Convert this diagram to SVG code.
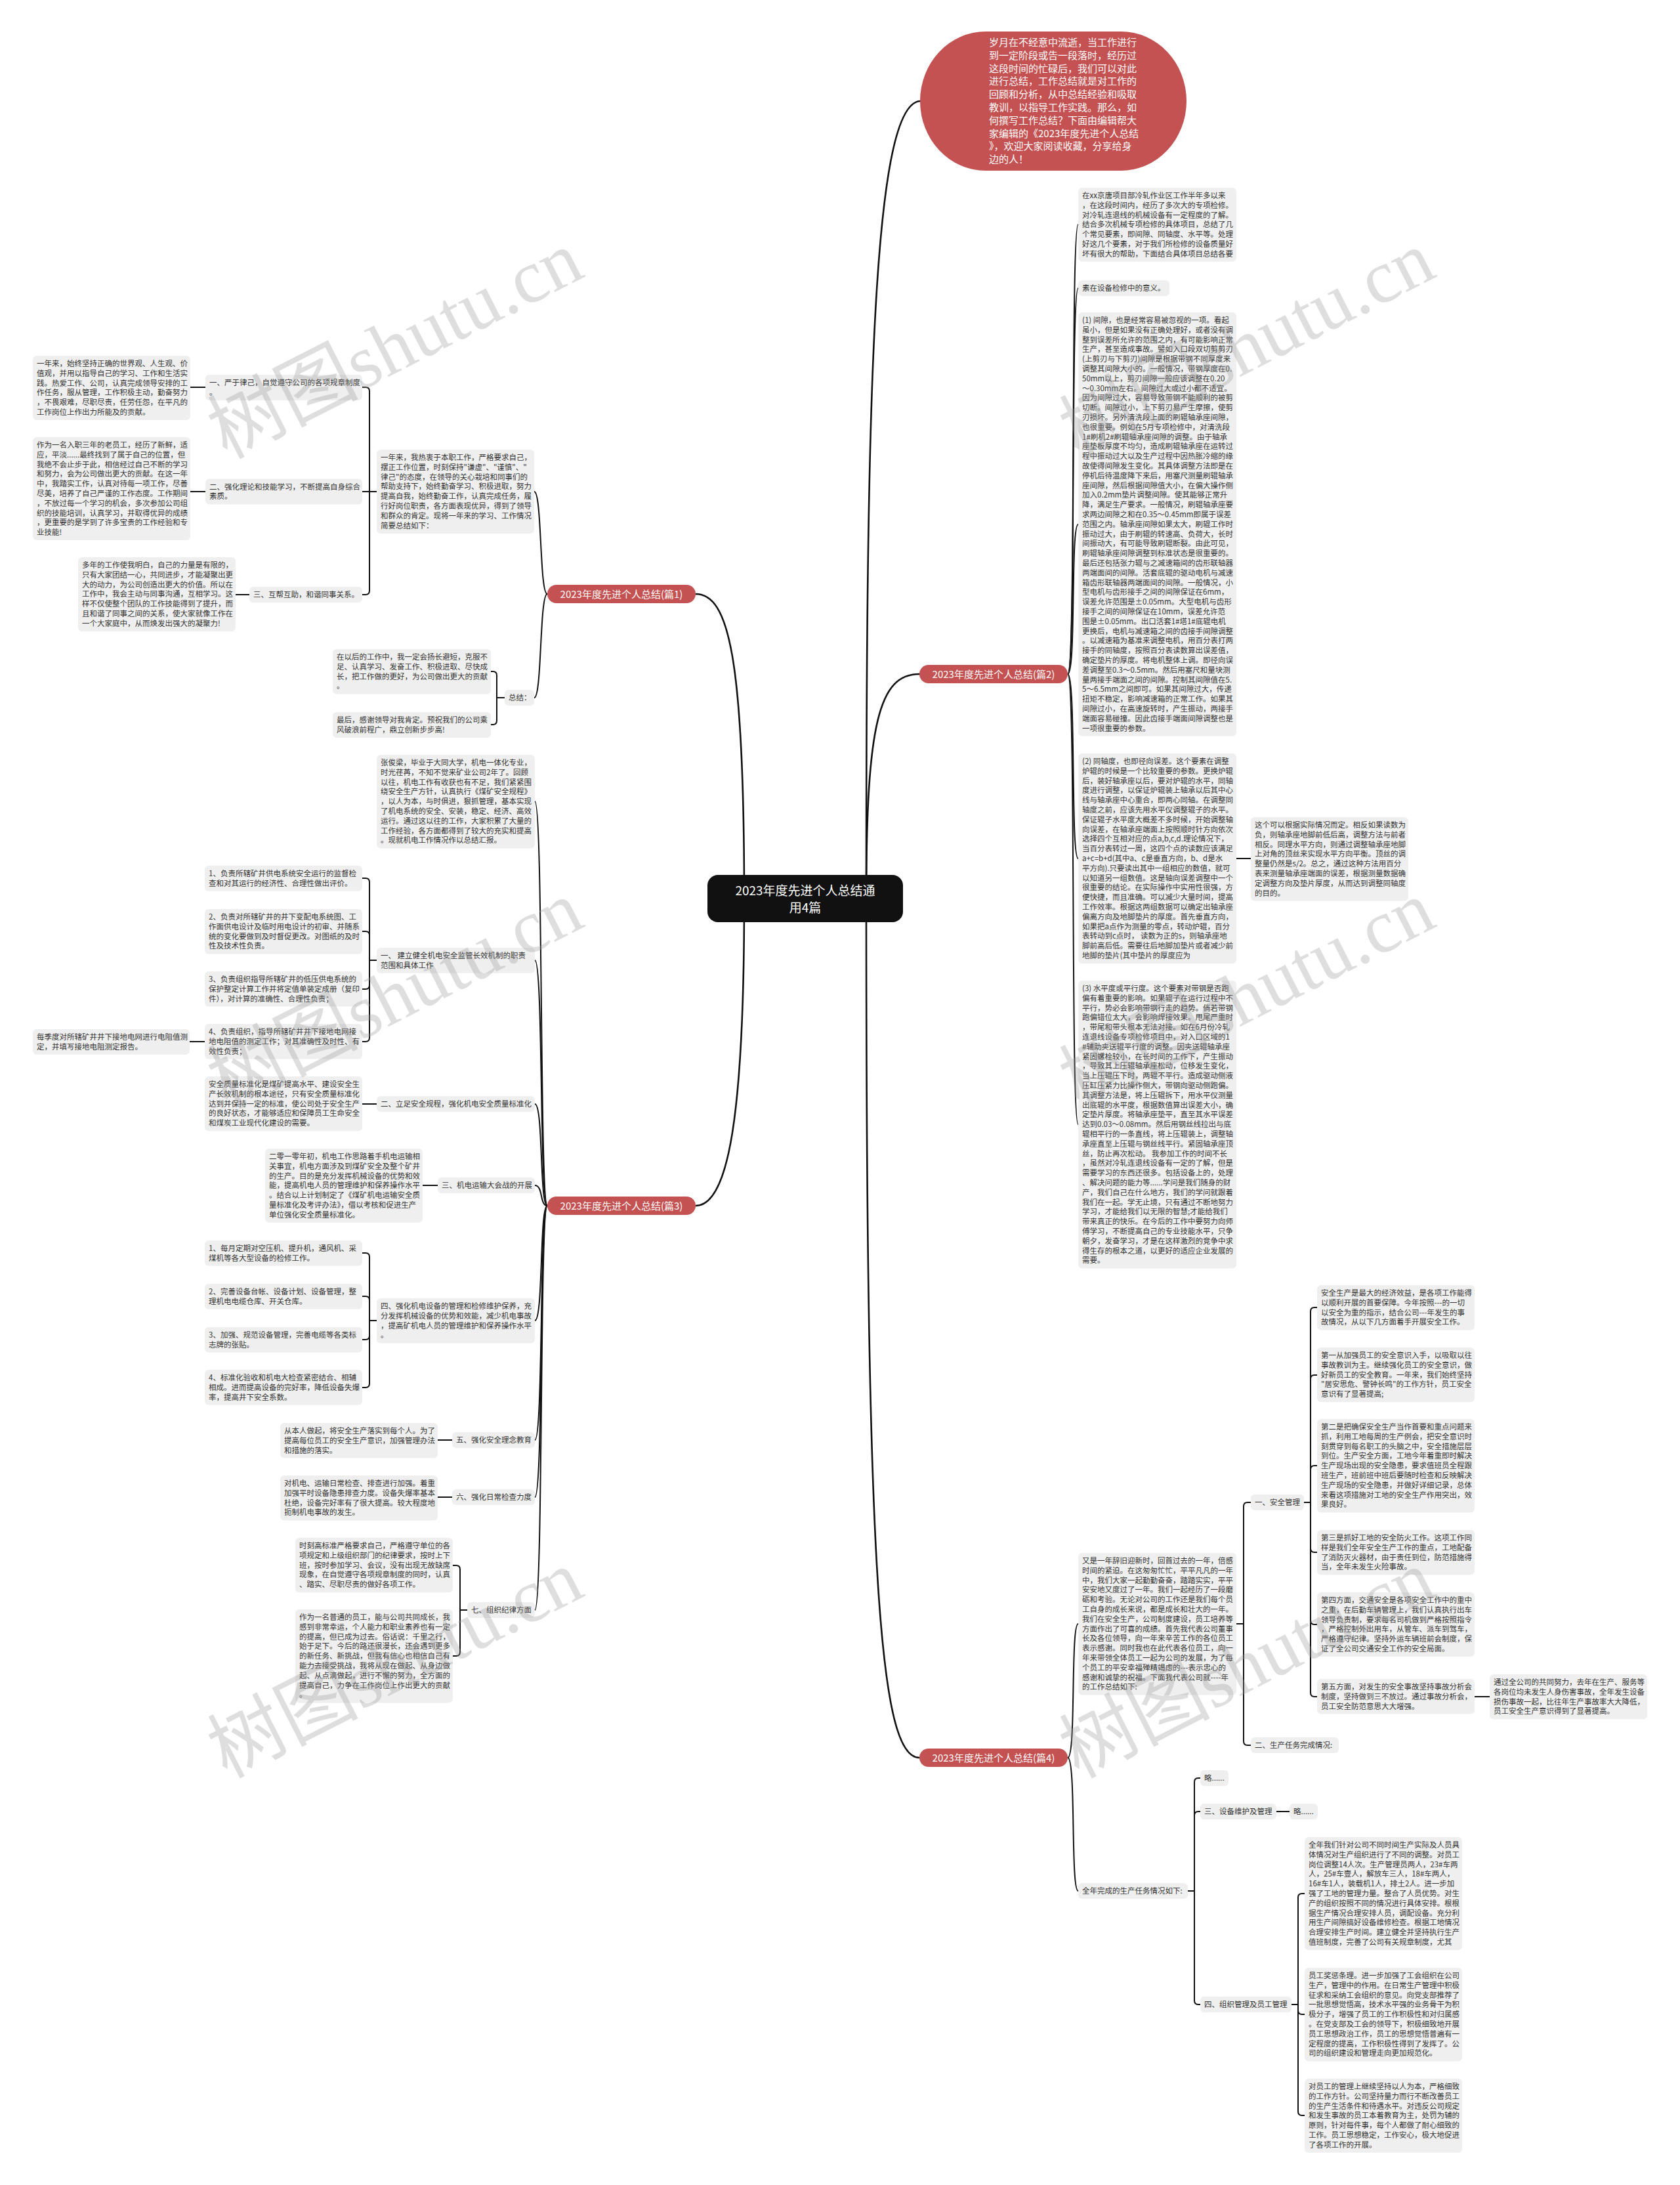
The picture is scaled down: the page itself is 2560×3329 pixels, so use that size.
<svg xmlns="http://www.w3.org/2000/svg" width="2560" height="3329" viewBox="0 0 2560 3329">
<style>
.bg{fill:#ffffff}
.b{fill:#efefef}
.t{font-family:"Noto Sans CJK SC","Liberation Sans",sans-serif;font-size:11.5px;fill:#333333}
.c{fill:none;stroke:#111111;stroke-width:2}
.rc{fill:none;stroke:#111111;stroke-width:2.6}
.lr{fill:#c45252}
.lt{font-family:"Noto Sans CJK SC","Liberation Sans",sans-serif;font-size:15px;fill:#ffffff;text-anchor:middle}
.bt{font-family:"Noto Sans CJK SC","Liberation Sans",sans-serif;font-size:15px;fill:#ffffff}
.root{fill:#111111}
.rt{font-family:"Noto Sans CJK SC","Liberation Sans",sans-serif;font-size:19px;fill:#ffffff;text-anchor:middle}
.wm{font-family:"Noto Sans CJK SC",sans-serif;font-size:115px;fill:#9a9a9a;opacity:0.32}
.wms{font-family:"Liberation Serif",serif}
</style>
<rect class="bg" x="0" y="0" width="2560" height="3329"/>

<g id="connectors">
<!-- root -->
<path class="rc" d="M1320 1369 C1320 600, 1330 154, 1403 154"/>
<path class="rc" d="M1320 1369 C1320 1100, 1340 1027, 1401 1027"/>
<path class="rc" d="M1320 1369 C1320 2400, 1340 2678, 1401 2678"/>
<path class="rc" d="M1134 1369 C1134 1000, 1110 905, 1060 905"/>
<path class="rc" d="M1134 1369 C1134 1700, 1110 1837, 1060 1837"/>
<!-- 篇1 -->
<path class="c" d="M834 905 C822 905, 826 749, 814 749"/>
<path class="c" d="M834 905 C822 905, 826 1063, 814 1063"/>
<path class="c" d="M574 749 H563 V596 Q563 590 557 590 H552"/>
<path class="c" d="M574 749 H552"/>
<path class="c" d="M574 749 H563 V900 Q563 906 557 906 H552"/>
<path class="c" d="M313 590 H290"/>
<path class="c" d="M313 749 H290"/>
<path class="c" d="M380 906 H359"/>
<path class="c" d="M769 1063 H757 V1029 Q757 1023 751 1023 H748"/>
<path class="c" d="M769 1063 H757 V1098 Q757 1104 751 1104 H748"/>
<!-- 篇3 -->
<path class="c" d="M834 1837 C822 1837, 828 1221, 815 1221"/>
<path class="c" d="M834 1837 C822 1837, 828 1463, 815 1463"/>
<path class="c" d="M834 1837 C822 1837, 828 1682, 815 1682"/>
<path class="c" d="M834 1837 C822 1837, 828 1806, 815 1806"/>
<path class="c" d="M834 1837 C822 1837, 828 2012, 815 2012"/>
<path class="c" d="M834 1837 C822 1837, 828 2194, 815 2194"/>
<path class="c" d="M834 1837 C822 1837, 828 2281, 815 2281"/>
<path class="c" d="M834 1837 C822 1837, 828 2453, 815 2453"/>
<path class="c" d="M574 1463 H563 V1344 Q563 1338 557 1338 H552"/>
<path class="c" d="M574 1463 H563 V1425 Q563 1419 557 1419 H552"/>
<path class="c" d="M574 1463 H563 V1501 Q563 1507 557 1507 H552"/>
<path class="c" d="M574 1463 H563 V1581 Q563 1587 557 1587 H552"/>
<path class="c" d="M312 1587 H289"/>
<path class="c" d="M574 1682 H552"/>
<path class="c" d="M667 1806 H644"/>
<path class="c" d="M574 2012 H563 V1915 Q563 1909 557 1909 H552"/>
<path class="c" d="M574 2012 H563 V1981 Q563 1975 557 1975 H552"/>
<path class="c" d="M574 2012 H563 V2035 Q563 2041 557 2041 H552"/>
<path class="c" d="M574 2012 H563 V2108 Q563 2114 557 2114 H552"/>
<path class="c" d="M689 2194 H667"/>
<path class="c" d="M689 2281 H667"/>
<path class="c" d="M712 2453 H701 V2391 Q701 2385 695 2385 H690"/>
<path class="c" d="M712 2453 H701 V2517 Q701 2523 695 2523 H690"/>
<!-- 篇2 -->
<path class="c" d="M1627 1027 C1640 1027, 1631 342, 1643 342"/>
<path class="c" d="M1627 1027 C1640 1027, 1631 439, 1643 439"/>
<path class="c" d="M1627 1027 C1640 1027, 1631 799, 1643 799"/>
<path class="c" d="M1627 1027 C1640 1027, 1631 1308, 1643 1308"/>
<path class="c" d="M1627 1027 C1640 1027, 1631 1713, 1643 1713"/>
<path class="c" d="M1884 1308 H1906"/>
<!-- 篇4 -->
<path class="c" d="M1627 2678 C1640 2678, 1631 2474, 1643 2474"/>
<path class="c" d="M1627 2678 C1640 2678, 1631 2881, 1643 2881"/>
<path class="c" d="M1884 2474 H1895 V2295 Q1895 2289 1901 2289 H1906"/>
<path class="c" d="M1884 2474 H1895 V2653 Q1895 2659 1901 2659 H1906"/>
<path class="c" d="M1987 2289 H1997 V1998 Q1997 1992 2003 1992 H2007"/>
<path class="c" d="M1987 2289 H1997 V2101 Q1997 2095 2003 2095 H2007"/>
<path class="c" d="M1987 2289 H1997 V2239 Q1997 2233 2003 2233 H2007"/>
<path class="c" d="M1987 2289 H1997 V2359 Q1997 2365 2003 2365 H2007"/>
<path class="c" d="M1987 2289 H1997 V2469 Q1997 2475 2003 2475 H2007"/>
<path class="c" d="M1987 2289 H1997 V2579 Q1997 2585 2003 2585 H2007"/>
<path class="c" d="M2247 2585 H2270"/>
<path class="c" d="M1810 2881 H1820 V2715 Q1820 2709 1826 2709 H1829"/>
<path class="c" d="M1810 2881 H1820 V2766 Q1820 2760 1826 2760 H1829"/>
<path class="c" d="M1810 2881 H1820 V3048 Q1820 3054 1826 3054 H1829"/>
<path class="c" d="M1945 2760 H1965"/>
<path class="c" d="M1968 3054 H1978 V2891 Q1978 2885 1984 2885 H1988"/>
<path class="c" d="M1968 3054 H1978 V3063 Q1978 3069 1984 3069 H1988"/>
<path class="c" d="M1968 3054 H1978 V3217 Q1978 3223 1984 3223 H1988"/>
</g>

<g id="root">
<rect class="root" x="1078" y="1333" width="298" height="72" rx="16"/>
<text class="rt" x="1227" y="1364">2023年度先进个人总结通<tspan x="1227" dy="26">用4篇</tspan></text>
</g>

<g id="intro">
<rect class="lr" x="1402" y="48" width="406" height="212" rx="100" ry="106"/>
<text class="bt" x="1507" y="70"><tspan x="1507" dy="0">岁月在不经意中流逝，当工作进行</tspan><tspan x="1507" dy="19.8">到一定阶段或告一段落时，经历过</tspan><tspan x="1507" dy="19.8">这段时间的忙碌后，我们可以对此</tspan><tspan x="1507" dy="19.8">进行总结，工作总结就是对工作的</tspan><tspan x="1507" dy="19.8">回顾和分析，从中总结经验和吸取</tspan><tspan x="1507" dy="19.8">教训，以指导工作实践。那么，如</tspan><tspan x="1507" dy="19.8">何撰写工作总结？下面由编辑帮大</tspan><tspan x="1507" dy="19.8">家编辑的《2023年度先进个人总结</tspan><tspan x="1507" dy="19.8">》，欢迎大家阅读收藏，分享给身</tspan><tspan x="1507" dy="19.8">边的人！</tspan></text>
</g>

<!-- ===== 篇1 ===== -->
<g id="p1"><rect class="lr" x="834" y="891" width="226" height="28" rx="14"/><text class="lt" x="947" y="910.5">2023年度先进个人总结(篇1)</text></g>
<g id="p1-intro"><rect class="b" x="574" y="685" width="240" height="128" rx="6"/>
<text class="t" x="580" y="701"><tspan x="580" dy="0">一年来，我热衷于本职工作，严格要求自己，</tspan><tspan x="580" dy="14.8">摆正工作位置，时刻保持"谦虚"、"谨慎"、"</tspan><tspan x="580" dy="14.8">律己"的态度，在领导的关心栽培和同事们的</tspan><tspan x="580" dy="14.8">帮助支持下，始终勤奋学习、积极进取，努力</tspan><tspan x="580" dy="14.8">提高自我，始终勤奋工作，认真完成任务，履</tspan><tspan x="580" dy="14.8">行好岗位职责，各方面表现优异，得到了领导</tspan><tspan x="580" dy="14.8">和群众的肯定。现将一年来的学习、工作情况</tspan><tspan x="580" dy="14.8">简要总结如下：</tspan></text></g>
<g id="p1-s1"><rect class="b" x="313" y="571" width="239" height="39" rx="6"/>
<text class="t" x="319" y="587"><tspan x="319" dy="0">一、严于律己，自觉遵守公司的各项规章制度</tspan><tspan x="319" dy="14.8">。</tspan></text></g>
<g id="p1-s1a"><rect class="b" x="50" y="542" width="240" height="98" rx="6"/>
<text class="t" x="56" y="558"><tspan x="56" dy="0">一年来，始终坚持正确的世界观、人生观、价</tspan><tspan x="56" dy="14.8">值观，并用以指导自己的学习、工作和生活实</tspan><tspan x="56" dy="14.8">践。热爱工作、公司，认真完成领导安排的工</tspan><tspan x="56" dy="14.8">作任务，服从管理，工作积极主动，勤奋努力</tspan><tspan x="56" dy="14.8">，不畏艰难，尽职尽责，任劳任怨，在平凡的</tspan><tspan x="56" dy="14.8">工作岗位上作出力所能及的贡献。</tspan></text></g>
<g id="p1-s2"><rect class="b" x="313" y="729.6" width="239" height="39" rx="6"/>
<text class="t" x="319" y="745.6"><tspan x="319" dy="0">二、强化理论和技能学习，不断提高自身综合</tspan><tspan x="319" dy="14.8">素质。</tspan></text></g>
<g id="p1-s2a"><rect class="b" x="50" y="666" width="240" height="157" rx="6"/>
<text class="t" x="56" y="682"><tspan x="56" dy="0">作为一名入职三年的老员工，经历了新鲜，适</tspan><tspan x="56" dy="14.8">应，平淡......最终找到了属于自己的位置，但</tspan><tspan x="56" dy="14.8">我绝不会止步于此，相信经过自己不断的学习</tspan><tspan x="56" dy="14.8">和努力，会为公司做出更大的贡献。在这一年</tspan><tspan x="56" dy="14.8">中，我踏实工作，认真对待每一项工作，尽善</tspan><tspan x="56" dy="14.8">尽美，培养了自己严谨的工作态度。工作期间</tspan><tspan x="56" dy="14.8">，不放过每一个学习的机会，多次参加公司组</tspan><tspan x="56" dy="14.8">织的技能培训，认真学习，并取得优异的成绩</tspan><tspan x="56" dy="14.8">，更重要的是学到了许多宝贵的工作经验和专</tspan><tspan x="56" dy="14.8">业技能!</tspan></text></g>
<g id="p1-s3"><rect class="b" x="380" y="894" width="172" height="24" rx="6"/>
<text class="t" x="386" y="910">三、互帮互助，和谐同事关系。</text></g>
<g id="p1-s3a"><rect class="b" x="119" y="849" width="240" height="113" rx="6"/>
<text class="t" x="125" y="865"><tspan x="125" dy="0">多年的工作使我明白，自己的力量是有限的，</tspan><tspan x="125" dy="14.8">只有大家团结一心，共同进步，才能凝聚出更</tspan><tspan x="125" dy="14.8">大的动力，为公司创造出更大的价值。所以在</tspan><tspan x="125" dy="14.8">工作中，我会主动与同事沟通，互相学习。这</tspan><tspan x="125" dy="14.8">样不仅使整个团队的工作技能得到了提升，而</tspan><tspan x="125" dy="14.8">且和谐了同事之间的关系，使大家就像工作在</tspan><tspan x="125" dy="14.8">一个大家庭中，从而焕发出强大的凝聚力!</tspan></text></g>
<g id="p1-sum"><rect class="b" x="769" y="1051" width="45" height="24" rx="6"/>
<text class="t" x="775" y="1067">总结：</text></g>
<g id="p1-sum-a"><rect class="b" x="507" y="989" width="241" height="68.4" rx="6"/>
<text class="t" x="513" y="1005"><tspan x="513" dy="0">在以后的工作中，我一定会扬长避短，克服不</tspan><tspan x="513" dy="14.8">足、认真学习、发奋工作、积极进取、尽快成</tspan><tspan x="513" dy="14.8">长，把工作做的更好，为公司做出更大的贡献</tspan><tspan x="513" dy="14.8">。</tspan></text></g>
<g id="p1-sum-b"><rect class="b" x="507" y="1085" width="241" height="39" rx="6"/>
<text class="t" x="513" y="1101"><tspan x="513" dy="0">最后，感谢领导对我肯定。预祝我们的公司乘</tspan><tspan x="513" dy="14.8">风破浪前程广，鼎立创新步步高!</tspan></text></g>

<!-- ===== 篇3 ===== -->
<g id="p3"><rect class="lr" x="834" y="1823" width="226" height="28" rx="14"/><text class="lt" x="947" y="1842.5">2023年度先进个人总结(篇3)</text></g>
<g id="p3-intro"><rect class="b" x="574" y="1150" width="241" height="142.4" rx="6"/>
<text class="t" x="580" y="1166"><tspan x="580" dy="0">张俊梁，毕业于大同大学，机电一体化专业，</tspan><tspan x="580" dy="14.8">时光荏苒，不知不觉来矿业公司2年了。回顾</tspan><tspan x="580" dy="14.8">以往，机电工作有收获也有不足，我们紧紧围</tspan><tspan x="580" dy="14.8">绕安全生产方针，认真执行《煤矿安全规程》</tspan><tspan x="580" dy="14.8">，以人为本，与时俱进，狠抓管理，基本实现</tspan><tspan x="580" dy="14.8">了机电系统的安全、安装，稳定、经济、高效</tspan><tspan x="580" dy="14.8">运行。通过这以往的工作，大家积累了大量的</tspan><tspan x="580" dy="14.8">工作经验，各方面都得到了较大的充实和提高</tspan><tspan x="580" dy="14.8">。现就机电工作情况作以总结汇报。</tspan></text></g>
<g id="p3-s1"><rect class="b" x="574" y="1444" width="241" height="38.8" rx="6"/>
<text class="t" x="580" y="1460"><tspan x="580" dy="0">一、 建立健全机电安全监管长效机制的职责</tspan><tspan x="580" dy="14.8">范围和具体工作</tspan></text></g>
<g id="p3-s1a"><rect class="b" x="312" y="1319" width="240" height="38.8" rx="6"/>
<text class="t" x="318" y="1335"><tspan x="318" dy="0">1、负责所辖矿井供电系统安全运行的监督检</tspan><tspan x="318" dy="14.8">查和对其运行的经济性、合理性做出评价。</tspan></text></g>
<g id="p3-s1b"><rect class="b" x="312" y="1385" width="240" height="68.4" rx="6"/>
<text class="t" x="318" y="1401"><tspan x="318" dy="0">2、负责对所辖矿井的井下变配电系统图、工</tspan><tspan x="318" dy="14.8">作面供电设计及临时用电设计的初审、并随系</tspan><tspan x="318" dy="14.8">统的变化要做到及时督促更改。对图纸的及时</tspan><tspan x="318" dy="14.8">性及技术性负责。</tspan></text></g>
<g id="p3-s1c"><rect class="b" x="312" y="1480" width="240" height="53.6" rx="6"/>
<text class="t" x="318" y="1496"><tspan x="318" dy="0">3、负责组织指导所辖矿井的低压供电系统的</tspan><tspan x="318" dy="14.8">保护整定计算工作并将定值单装定成册（复印</tspan><tspan x="318" dy="14.8">件），对计算的准确性、合理性负责；</tspan></text></g>
<g id="p3-s1d"><rect class="b" x="312" y="1560" width="240" height="53.6" rx="6"/>
<text class="t" x="318" y="1576"><tspan x="318" dy="0">4、负责组织，指导所辖矿井井下接地电网接</tspan><tspan x="318" dy="14.8">地电阻值的测定工作；对其准确性及时性、有</tspan><tspan x="318" dy="14.8">效性负责；</tspan></text></g>
<g id="p3-s1d-a"><rect class="b" x="50" y="1568" width="239" height="38.8" rx="6"/>
<text class="t" x="56" y="1584"><tspan x="56" dy="0">每季度对所辖矿井井下接地电网进行电阻值测</tspan><tspan x="56" dy="14.8">定，并填写接地电阻测定报告。</tspan></text></g>
<g id="p3-s2"><rect class="b" x="574" y="1670" width="241" height="24" rx="6"/>
<text class="t" x="580" y="1686">二、立足安全规程，强化机电安全质量标准化</text></g>
<g id="p3-s2a"><rect class="b" x="312" y="1640" width="240" height="83.2" rx="6"/>
<text class="t" x="318" y="1656"><tspan x="318" dy="0">安全质量标准化是煤矿提高水平、建设安全生</tspan><tspan x="318" dy="14.8">产长效机制的根本途径，只有安全质量标准化</tspan><tspan x="318" dy="14.8">达到并保持一定的标准，使公司处于安全生产</tspan><tspan x="318" dy="14.8">的良好状态，才能够适应和保障员工生命安全</tspan><tspan x="318" dy="14.8">和煤炭工业现代化建设的需要。</tspan></text></g>
<g id="p3-s3"><rect class="b" x="667" y="1794" width="148" height="24" rx="6"/>
<text class="t" x="673" y="1810">三、机电运输大会战的开展</text></g>
<g id="p3-s3a"><rect class="b" x="404" y="1750" width="240" height="112.8" rx="6"/>
<text class="t" x="410" y="1766"><tspan x="410" dy="0">二零一零年初，机电工作思路着手机电运输相</tspan><tspan x="410" dy="14.8">关事宜，机电方面涉及到煤矿安全及整个矿井</tspan><tspan x="410" dy="14.8">的生产。目的是充分发挥机械设备的优势和效</tspan><tspan x="410" dy="14.8">能，提高机电人员的管理维护和保养操作水平</tspan><tspan x="410" dy="14.8">。结合以上计划制定了《煤矿机电运输安全质</tspan><tspan x="410" dy="14.8">量标准化及考评办法》，借以考核和促进生产</tspan><tspan x="410" dy="14.8">单位强化安全质量标准化。</tspan></text></g>
<g id="p3-s4"><rect class="b" x="574" y="1978" width="241" height="68.4" rx="6"/>
<text class="t" x="580" y="1994"><tspan x="580" dy="0">四、强化机电设备的管理和检修维护保养，充</tspan><tspan x="580" dy="14.8">分发挥机械设备的优势和效能，减少机电事故</tspan><tspan x="580" dy="14.8">，提高矿机电人员的管理维护和保养操作水平</tspan><tspan x="580" dy="14.8">。</tspan></text></g>
<g id="p3-s4a"><rect class="b" x="312" y="1890" width="240" height="38.8" rx="6"/>
<text class="t" x="318" y="1906"><tspan x="318" dy="0">1、每月定期对空压机、提升机，通风机、采</tspan><tspan x="318" dy="14.8">煤机等各大型设备的检修工作。</tspan></text></g>
<g id="p3-s4b"><rect class="b" x="312" y="1956" width="240" height="38.8" rx="6"/>
<text class="t" x="318" y="1972"><tspan x="318" dy="0">2、完善设备台帐、设备计划、设备管理，整</tspan><tspan x="318" dy="14.8">理机电电缆仓库、开关仓库。</tspan></text></g>
<g id="p3-s4c"><rect class="b" x="312" y="2022" width="240" height="38.8" rx="6"/>
<text class="t" x="318" y="2038"><tspan x="318" dy="0">3、加强、规范设备管理，完善电缆等各类标</tspan><tspan x="318" dy="14.8">志牌的张贴。</tspan></text></g>
<g id="p3-s4d"><rect class="b" x="312" y="2087" width="240" height="53.6" rx="6"/>
<text class="t" x="318" y="2103"><tspan x="318" dy="0">4、标准化验收和机电大检查紧密结合、相辅</tspan><tspan x="318" dy="14.8">相成。进而提高设备的完好率，降低设备失爆</tspan><tspan x="318" dy="14.8">率，提高井下安全系数。</tspan></text></g>
<g id="p3-s5"><rect class="b" x="689" y="2182" width="126" height="24" rx="6"/>
<text class="t" x="695" y="2198">五、强化安全理念教育</text></g>
<g id="p3-s5a"><rect class="b" x="427" y="2168" width="240" height="53.6" rx="6"/>
<text class="t" x="433" y="2184"><tspan x="433" dy="0">从本人做起，将安全生产落实到每个人。为了</tspan><tspan x="433" dy="14.8">提高每位员工的安全生产意识，加强管理办法</tspan><tspan x="433" dy="14.8">和措施的落实。</tspan></text></g>
<g id="p3-s6"><rect class="b" x="689" y="2269" width="126" height="24" rx="6"/>
<text class="t" x="695" y="2285">六、强化日常检查力度</text></g>
<g id="p3-s6a"><rect class="b" x="427" y="2248" width="240" height="68.4" rx="6"/>
<text class="t" x="433" y="2264"><tspan x="433" dy="0">对机电、运输日常检查、排查进行加强。着重</tspan><tspan x="433" dy="14.8">加强平时设备隐患排查力度。设备失爆率基本</tspan><tspan x="433" dy="14.8">杜绝，设备完好率有了很大提高。较大程度地</tspan><tspan x="433" dy="14.8">扼制机电事故的发生。</tspan></text></g>
<g id="p3-s7"><rect class="b" x="712" y="2441" width="103" height="24" rx="6"/>
<text class="t" x="718" y="2457">七、组织纪律方面</text></g>
<g id="p3-s7a"><rect class="b" x="450" y="2343" width="240" height="83.2" rx="6"/>
<text class="t" x="456" y="2359"><tspan x="456" dy="0">时刻高标准严格要求自己，严格遵守单位的各</tspan><tspan x="456" dy="14.8">项规定和上级组织部门的纪律要求，按时上下</tspan><tspan x="456" dy="14.8">班，按时参加学习、会议，没有出现无故缺席</tspan><tspan x="456" dy="14.8">现象，在自觉遵守各项规章制度的同时，认真</tspan><tspan x="456" dy="14.8">、踏实、尽职尽责的做好各项工作。</tspan></text></g>
<g id="p3-s7b"><rect class="b" x="450" y="2452" width="240" height="142.4" rx="6"/>
<text class="t" x="456" y="2468"><tspan x="456" dy="0">作为一名普通的员工，能与公司共同成长，我</tspan><tspan x="456" dy="14.8">感到非常幸运，个人能力和职业素养也有一定</tspan><tspan x="456" dy="14.8">的提高，但已成为过去。俗话说：千里之行，</tspan><tspan x="456" dy="14.8">始于足下。今后的路还很漫长，还会遇到更多</tspan><tspan x="456" dy="14.8">的新任务、新挑战，但我有信心也相信自己有</tspan><tspan x="456" dy="14.8">能力去接受挑战，我将从现在做起、从身边做</tspan><tspan x="456" dy="14.8">起、从点滴做起，进行不懈的努力，全方面的</tspan><tspan x="456" dy="14.8">提高自己，力争在工作岗位上作出更大的贡献</tspan><tspan x="456" dy="14.8">。</tspan></text></g>

<!-- ===== 篇2 ===== -->
<g id="p2"><rect class="lr" x="1401" y="1013" width="226" height="28" rx="14"/><text class="lt" x="1514" y="1032.5">2023年度先进个人总结(篇2)</text></g>
<g id="p2-a"><rect class="b" x="1643" y="286" width="241" height="112.8" rx="6"/>
<text class="t" x="1649" y="302"><tspan x="1649" dy="0">在xx京唐项目部冷轧作业区工作半年多以来</tspan><tspan x="1649" dy="14.8">，在这段时间内，经历了多次大的专项检修。</tspan><tspan x="1649" dy="14.8">对冷轧连退线的机械设备有一定程度的了解。</tspan><tspan x="1649" dy="14.8">结合多次机械专项检修的具体项目，总结了几</tspan><tspan x="1649" dy="14.8">个常见要素，即间隙、同轴度、水平等。处理</tspan><tspan x="1649" dy="14.8">好这几个要素，对于我们所检修的设备质量好</tspan><tspan x="1649" dy="14.8">坏有很大的帮助，下面结合具体项目总结各要</tspan></text></g>
<g id="p2-b"><rect class="b" x="1643" y="427" width="139" height="24" rx="6"/>
<text class="t" x="1649" y="443">素在设备检修中的意义。</text></g>
<g id="p2-c"><rect class="b" x="1643" y="476" width="241" height="645.6" rx="6"/>
<text class="t" x="1649" y="492"><tspan x="1649" dy="0">(1) 间隙，也是经常容易被忽视的一项。看起</tspan><tspan x="1649" dy="14.8">虽小，但是如果没有正确处理好，或者没有调</tspan><tspan x="1649" dy="14.8">整到误差所允许的范围之内，有可能影响正常</tspan><tspan x="1649" dy="14.8">生产，甚至造成事故。譬如入口段双切剪剪刃</tspan><tspan x="1649" dy="14.8">(上剪刃与下剪刃)间隙是根据带钢不同厚度来</tspan><tspan x="1649" dy="14.8">调整其间隙大小的。一般情况，带钢厚度在0.</tspan><tspan x="1649" dy="14.8">50mm以上，剪刃间隙一般应该调整在0.20</tspan><tspan x="1649" dy="14.8">～0.30mm左右。间隙过大或过小都不适宜。</tspan><tspan x="1649" dy="14.8">因为间隙过大，容易导致带钢不能顺利的被剪</tspan><tspan x="1649" dy="14.8">切断。间隙过小，上下剪刃易产生摩擦，使剪</tspan><tspan x="1649" dy="14.8">刃损坏。另外清洗段上面的刷辊轴承座间隙，</tspan><tspan x="1649" dy="14.8">也很重要。例如在5月专项检修中，对清洗段</tspan><tspan x="1649" dy="14.8">1#刷机2#刷辊轴承座间隙的调整。由于轴承</tspan><tspan x="1649" dy="14.8">座垫板厚度不均匀，造成刷辊轴承座在运转过</tspan><tspan x="1649" dy="14.8">程中振动过大以及生产过程中因热胀冷缩的缘</tspan><tspan x="1649" dy="14.8">故使得间隙发生变化。其具体调整方法即是在</tspan><tspan x="1649" dy="14.8">停机后待温度降下来后，用塞尺测量刷辊轴承</tspan><tspan x="1649" dy="14.8">座间隙，然后根据间隙值大小，在偏大操作侧</tspan><tspan x="1649" dy="14.8">加入0.2mm垫片调整间隙。使其能够正常升</tspan><tspan x="1649" dy="14.8">降，满足生产要求。一般情况，刷辊轴承座要</tspan><tspan x="1649" dy="14.8">求两边间隙之和在0.35～0.45mm即属于误差</tspan><tspan x="1649" dy="14.8">范围之内。轴承座间隙如果太大，刷辊工作时</tspan><tspan x="1649" dy="14.8">振动过大，由于刷辊的转速高、负荷大，长时</tspan><tspan x="1649" dy="14.8">间振动大，有可能导致刷辊断裂。由此可见，</tspan><tspan x="1649" dy="14.8">刷辊轴承座间隙调整到标准状态是很重要的。</tspan><tspan x="1649" dy="14.8">最后还包括张力辊与之减速箱间的齿形联轴器</tspan><tspan x="1649" dy="14.8">两端面间的间隙。活套底辊的驱动电机与减速</tspan><tspan x="1649" dy="14.8">箱齿形联轴器两端面间的间隙。一般情况，小</tspan><tspan x="1649" dy="14.8">型电机与齿形接手之间的间隙保证在6mm，</tspan><tspan x="1649" dy="14.8">误差允许范围是±0.05mm。大型电机与齿形</tspan><tspan x="1649" dy="14.8">接手之间的间隙保证在10mm，误差允许范</tspan><tspan x="1649" dy="14.8">围是±0.05mm。出口活套1#塔1#底辊电机</tspan><tspan x="1649" dy="14.8">更换后，电机与减速箱之间的齿接手间隙调整</tspan><tspan x="1649" dy="14.8">。以减速箱为基准来调整电机，用百分表打两</tspan><tspan x="1649" dy="14.8">接手的同轴度，按照百分表读数算出误差值，</tspan><tspan x="1649" dy="14.8">确定垫片的厚度。将电机整体上调。即径向误</tspan><tspan x="1649" dy="14.8">差调整至0.3～0.5mm。然后用塞尺和量块测</tspan><tspan x="1649" dy="14.8">量两接手端面之间的间隙。控制其间隙值在5.</tspan><tspan x="1649" dy="14.8">5～6.5mm之间即可。如果其间隙过大，传递</tspan><tspan x="1649" dy="14.8">扭矩不稳定，影响减速箱的正常工作。如果其</tspan><tspan x="1649" dy="14.8">间隙过小，在高速旋转时，产生振动，两接手</tspan><tspan x="1649" dy="14.8">端面容易碰撞。因此齿接手端面间隙调整也是</tspan><tspan x="1649" dy="14.8">一项很重要的参数。</tspan></text></g>
<g id="p2-d"><rect class="b" x="1643" y="1148" width="241" height="320" rx="6"/>
<text class="t" x="1649" y="1164"><tspan x="1649" dy="0">(2) 同轴度，也即径向误差。这个要素在调整</tspan><tspan x="1649" dy="14.8">炉辊的时候是一个比较重要的参数。更换炉辊</tspan><tspan x="1649" dy="14.8">后，装好轴承座以后，要对炉辊的水平，同轴</tspan><tspan x="1649" dy="14.8">度进行调整，以保证炉辊装上轴承以后其中心</tspan><tspan x="1649" dy="14.8">线与轴承座中心重合，即两心同轴。在调整同</tspan><tspan x="1649" dy="14.8">轴度之前，应该先用水平仪调整辊子的水平。</tspan><tspan x="1649" dy="14.8">保证辊子水平度大概差不多时候，开始调整轴</tspan><tspan x="1649" dy="14.8">向误差，在轴承座端面上按照顺时针方向依次</tspan><tspan x="1649" dy="14.8">选择四个互相对应的点a,b,c,d.理论情况下，</tspan><tspan x="1649" dy="14.8">当百分表转过一周，这四个点的读数应该满足</tspan><tspan x="1649" dy="14.8">a+c=b+d(其中a、c是垂直方向，b、d是水</tspan><tspan x="1649" dy="14.8">平方向).只要读出其中一组相应的数值，就可</tspan><tspan x="1649" dy="14.8">以知道另一组数值。这是轴向误差调整中一个</tspan><tspan x="1649" dy="14.8">很重要的结论。在实际操作中实用性很强，方</tspan><tspan x="1649" dy="14.8">便快捷，而且准确。可以减少大量时间，提高</tspan><tspan x="1649" dy="14.8">工作效率。根据这两组数据可以确定出轴承座</tspan><tspan x="1649" dy="14.8">偏离方向及地脚垫片的厚度。首先垂直方向，</tspan><tspan x="1649" dy="14.8">如果把a点作为测量的零点，转动炉辊，百分</tspan><tspan x="1649" dy="14.8">表转动到c点时， 读数为正的s，则轴承座地</tspan><tspan x="1649" dy="14.8">脚前高后低。需要往后地脚加垫片或者减少前</tspan><tspan x="1649" dy="14.8">地脚的垫片(其中垫片的厚度应为</tspan></text></g>
<g id="p2-d-a"><rect class="b" x="1906" y="1245" width="240" height="127.6" rx="6"/>
<text class="t" x="1912" y="1261"><tspan x="1912" dy="0">这个可以根据实际情况而定。相反如果读数为</tspan><tspan x="1912" dy="14.8">负，则轴承座地脚前低后高，调整方法与前者</tspan><tspan x="1912" dy="14.8">相反。同理水平方向，则通过调整轴承座地脚</tspan><tspan x="1912" dy="14.8">上对角的顶丝来实现水平方向平衡。顶丝的调</tspan><tspan x="1912" dy="14.8">整量仍然是s/2。总之，通过这种方法用百分</tspan><tspan x="1912" dy="14.8">表来测量轴承座端面的误差，根据测量数据确</tspan><tspan x="1912" dy="14.8">定调整方向及垫片厚度，从而达到调整同轴度</tspan><tspan x="1912" dy="14.8">的目的。</tspan></text></g>
<g id="p2-e"><rect class="b" x="1643" y="1494" width="241" height="438.4" rx="6"/>
<text class="t" x="1649" y="1510"><tspan x="1649" dy="0">(3) 水平度或平行度。这个要素对带钢是否跑</tspan><tspan x="1649" dy="14.8">偏有着重要的影响。如果辊子在运行过程中不</tspan><tspan x="1649" dy="14.8">平行，势必会影响带钢行走的趋势。倘若带钢</tspan><tspan x="1649" dy="14.8">跑偏错位太大，会影响焊接效果。甩尾严重时</tspan><tspan x="1649" dy="14.8">，带尾和带头根本无法对接。如在6月份冷轧</tspan><tspan x="1649" dy="14.8">连退线设备专项检修项目中，对入口区域的1</tspan><tspan x="1649" dy="14.8">#辅助夹送辊平行度的调整。因夹送辊轴承座</tspan><tspan x="1649" dy="14.8">紧固螺栓较小，在长时间的工作下，产生振动</tspan><tspan x="1649" dy="14.8">，导致其上压辊轴承座松动，位移发生变化，</tspan><tspan x="1649" dy="14.8">当上压辊压下时，两辊不平行。造成驱动侧液</tspan><tspan x="1649" dy="14.8">压缸压紧力比操作侧大，带钢向驱动侧跑偏。</tspan><tspan x="1649" dy="14.8">其调整方法是，将上压辊拆下，用水平仪测量</tspan><tspan x="1649" dy="14.8">出底辊的水平度，根据数值算出误差大小，确</tspan><tspan x="1649" dy="14.8">定垫片厚度。将轴承座垫平，直至其水平误差</tspan><tspan x="1649" dy="14.8">达到0.03～0.08mm。然后用钢丝线拉出与底</tspan><tspan x="1649" dy="14.8">辊相平行的一条直线，将上压辊装上，调整轴</tspan><tspan x="1649" dy="14.8">承座直至上压辊与钢丝线平行。紧固轴承座顶</tspan><tspan x="1649" dy="14.8">丝，防止再次松动。 我参加工作的时间不长</tspan><tspan x="1649" dy="14.8">，虽然对冷轧连退线设备有一定的了解，但是</tspan><tspan x="1649" dy="14.8">需要学习的东西还很多。包括设备上的，处理</tspan><tspan x="1649" dy="14.8">、解决问题的能力等......学问是我们随身的财</tspan><tspan x="1649" dy="14.8">产，我们自己在什么地方，我们的学问就跟着</tspan><tspan x="1649" dy="14.8">我们在一起。学无止境，只有通过不断地努力</tspan><tspan x="1649" dy="14.8">学习，才能给我们以无限的智慧;才能给我们</tspan><tspan x="1649" dy="14.8">带来真正的快乐。在今后的工作中要努力向师</tspan><tspan x="1649" dy="14.8">傅学习，不断提高自己的专业技能水平，只争</tspan><tspan x="1649" dy="14.8">朝夕，发奋学习，才是在这样激烈的竞争中求</tspan><tspan x="1649" dy="14.8">得生存的根本之道，以更好的适应企业发展的</tspan><tspan x="1649" dy="14.8">需要。</tspan></text></g>

<!-- ===== 篇4 ===== -->
<g id="p4"><rect class="lr" x="1401" y="2664" width="226" height="28" rx="14"/><text class="lt" x="1514" y="2683.5">2023年度先进个人总结(篇4)</text></g>
<g id="p4-a"><rect class="b" x="1643" y="2366" width="241" height="216.4" rx="6"/>
<text class="t" x="1649" y="2382"><tspan x="1649" dy="0">又是一年辞旧迎新时，回首过去的一年，倍感</tspan><tspan x="1649" dy="14.8">时间的紧迫。在这匆匆忙忙，平平凡凡的一年</tspan><tspan x="1649" dy="14.8">中，我们大家一起勤勤奋奋，踏踏实实，平平</tspan><tspan x="1649" dy="14.8">安安地又度过了一年。我们一起经历了一段磨</tspan><tspan x="1649" dy="14.8">砺和考验。无论对公司的工作还是我们每个员</tspan><tspan x="1649" dy="14.8">工自身的成长来说，都是成长和壮大的一年。</tspan><tspan x="1649" dy="14.8">我们在安全生产，公司制度建设，员工培养等</tspan><tspan x="1649" dy="14.8">方面作出了可喜的成绩。首先我代表公司董事</tspan><tspan x="1649" dy="14.8">长及各位领导，向一年来辛苦工作的各位员工</tspan><tspan x="1649" dy="14.8">表示感谢。同时我也在此代表各位员工，向一</tspan><tspan x="1649" dy="14.8">年来带领全体员工一起为公司的发展，为了每</tspan><tspan x="1649" dy="14.8">个员工的平安幸福殚精竭虑的---表示忠心的</tspan><tspan x="1649" dy="14.8">感谢和诚挚的祝福。下面我代表公司就----年</tspan><tspan x="1649" dy="14.8">的工作总结如下:</tspan></text></g>
<g id="p4-safety"><rect class="b" x="1906" y="2277" width="81" height="24" rx="6"/>
<text class="t" x="1912" y="2293">一、安全管理</text></g>
<g id="p4-safety-0"><rect class="b" x="2007" y="1958" width="240" height="68.4" rx="6"/>
<text class="t" x="2013" y="1974"><tspan x="2013" dy="0">安全生产是最大的经济效益，是各项工作能得</tspan><tspan x="2013" dy="14.8">以顺利开展的首要保障。今年按照---的一切</tspan><tspan x="2013" dy="14.8">以安全为重的指示，结合公司---年发生的事</tspan><tspan x="2013" dy="14.8">故情况，从以下几方面着手开展安全工作。</tspan></text></g>
<g id="p4-safety-1"><rect class="b" x="2007" y="2053" width="240" height="83.2" rx="6"/>
<text class="t" x="2013" y="2069"><tspan x="2013" dy="0">第一从加强员工的安全意识入手，以吸取以往</tspan><tspan x="2013" dy="14.8">事故教训为主。继续强化员工的安全意识，做</tspan><tspan x="2013" dy="14.8">好新员工的安全教育。一年来，我们始终坚持</tspan><tspan x="2013" dy="14.8">"居安思危、警钟长鸣"的工作方针，员工安全</tspan><tspan x="2013" dy="14.8">意识有了显著提高;</tspan></text></g>
<g id="p4-safety-2"><rect class="b" x="2007" y="2162" width="240" height="142.4" rx="6"/>
<text class="t" x="2013" y="2178"><tspan x="2013" dy="0">第二是把确保安全生产当作首要和重点问题来</tspan><tspan x="2013" dy="14.8">抓，利用工地每周的生产例会，把安全意识时</tspan><tspan x="2013" dy="14.8">刻贯穿到每名职工的头脑之中，安全措施层层</tspan><tspan x="2013" dy="14.8">到位。生产安全方面，工地今年着重即时解决</tspan><tspan x="2013" dy="14.8">生产现场出现的安全隐患，要求值班员全程跟</tspan><tspan x="2013" dy="14.8">班生产，班前班中班后要随时检查和反映解决</tspan><tspan x="2013" dy="14.8">生产现场的安全隐患，并做好详细记录，总体</tspan><tspan x="2013" dy="14.8">来看这项措施对工地的安全生产作用突出，效</tspan><tspan x="2013" dy="14.8">果良好。</tspan></text></g>
<g id="p4-safety-3"><rect class="b" x="2007" y="2331" width="240" height="68.4" rx="6"/>
<text class="t" x="2013" y="2347"><tspan x="2013" dy="0">第三是抓好工地的安全防火工作。这项工作同</tspan><tspan x="2013" dy="14.8">样是我们全年安全生产工作的重点，工地配备</tspan><tspan x="2013" dy="14.8">了消防灭火器材，由于责任到位，防范措施得</tspan><tspan x="2013" dy="14.8">当，全年未发生火险事故。</tspan></text></g>
<g id="p4-safety-4"><rect class="b" x="2007" y="2426" width="240" height="98" rx="6"/>
<text class="t" x="2013" y="2442"><tspan x="2013" dy="0">第四方面，交通安全是各项安全工作中的重中</tspan><tspan x="2013" dy="14.8">之重，在后勤车辆管理上，我们认真执行出车</tspan><tspan x="2013" dy="14.8">领导负责制，要求每名司机做到严格按照指令</tspan><tspan x="2013" dy="14.8">，严格控制外出用车，从管车、派车到驾车，</tspan><tspan x="2013" dy="14.8">严格遵守纪律。坚持外运车辆班前会制度，保</tspan><tspan x="2013" dy="14.8">证了全公司交通安全工作的安全局面。</tspan></text></g>
<g id="p4-safety-5"><rect class="b" x="2007" y="2558" width="240" height="53.6" rx="6"/>
<text class="t" x="2013" y="2574"><tspan x="2013" dy="0">第五方面，对发生的安全事故坚持事故分析会</tspan><tspan x="2013" dy="14.8">制度，坚持做到三不放过。通过事故分析会，</tspan><tspan x="2013" dy="14.8">员工安全防范意思大大增强。</tspan></text></g>
<g id="p4-safety-5a"><rect class="b" x="2270" y="2551" width="240" height="68.4" rx="6"/>
<text class="t" x="2276" y="2567"><tspan x="2276" dy="0">通过全公司的共同努力，去年在生产、服务等</tspan><tspan x="2276" dy="14.8">各岗位均未发生人身伤害事故，全年发生设备</tspan><tspan x="2276" dy="14.8">损伤事故一起，比往年生产事故率大大降低，</tspan><tspan x="2276" dy="14.8">员工安全生产意识得到了显著提高。</tspan></text></g>
<g id="p4-prod"><rect class="b" x="1906" y="2647" width="134" height="24" rx="6"/>
<text class="t" x="1912" y="2663">二、生产任务完成情况:</text></g>
<g id="p4-b"><rect class="b" x="1643" y="2869" width="167" height="24" rx="6"/>
<text class="t" x="1649" y="2885">全年完成的生产任务情况如下:</text></g>
<g id="p4-b1"><rect class="b" x="1829" y="2697" width="43" height="24" rx="6"/>
<text class="t" x="1835" y="2713">略......</text></g>
<g id="p4-b2"><rect class="b" x="1829" y="2748" width="116" height="24" rx="6"/>
<text class="t" x="1835" y="2764">三、设备维护及管理</text></g>
<g id="p4-b2a"><rect class="b" x="1965" y="2748" width="43" height="24" rx="6"/>
<text class="t" x="1971" y="2764">略......</text></g>
<g id="p4-b3"><rect class="b" x="1829" y="3042" width="139" height="24" rx="6"/>
<text class="t" x="1835" y="3058">四、组织管理及员工管理</text></g>
<g id="p4-b3a"><rect class="b" x="1988" y="2799" width="240" height="172" rx="6"/>
<text class="t" x="1994" y="2815"><tspan x="1994" dy="0">全年我们针对公司不同时间生产实际及人员具</tspan><tspan x="1994" dy="14.8">体情况对生产组织进行了不同的调整。对员工</tspan><tspan x="1994" dy="14.8">岗位调整14人次。生产管理员两人，23#车两</tspan><tspan x="1994" dy="14.8">人，25#车壹人，解放车三人，18#车两人，</tspan><tspan x="1994" dy="14.8">16#车1人，装载机1人，排土2人。进一步加</tspan><tspan x="1994" dy="14.8">强了工地的管理力量。整合了人员优势。对生</tspan><tspan x="1994" dy="14.8">产的组织按照不同的情况进行具体安排。根根</tspan><tspan x="1994" dy="14.8">据生产情况合理安排人员，调配设备。充分利</tspan><tspan x="1994" dy="14.8">用生产间隙搞好设备维修检查。根据工地情况</tspan><tspan x="1994" dy="14.8">合理安排生产时间。建立健全并坚持执行生产</tspan><tspan x="1994" dy="14.8">值班制度，完善了公司有关规章制度，尤其</tspan></text></g>
<g id="p4-b3b"><rect class="b" x="1988" y="2998" width="240" height="142.4" rx="6"/>
<text class="t" x="1994" y="3014"><tspan x="1994" dy="0">员工奖惩条理。进一步加强了工会组织在公司</tspan><tspan x="1994" dy="14.8">生产，管理中的作用。在日常生产管理中积极</tspan><tspan x="1994" dy="14.8">征求和采纳工会组织的意见。向党支部推荐了</tspan><tspan x="1994" dy="14.8">一批思想觉悟高，技术水平强的业务骨干为积</tspan><tspan x="1994" dy="14.8">极分子，增强了员工的工作积极性和对归属感</tspan><tspan x="1994" dy="14.8">。在党支部及工会的领导下，积极细致地开展</tspan><tspan x="1994" dy="14.8">员工思想政治工作，员工的思想觉悟普遍有一</tspan><tspan x="1994" dy="14.8">定程度的提高，工作积极性得到了发挥了。公</tspan><tspan x="1994" dy="14.8">司的组织建设和管理走向更加规范化。</tspan></text></g>
<g id="p4-b3c"><rect class="b" x="1988" y="3167" width="240" height="112.8" rx="6"/>
<text class="t" x="1994" y="3183"><tspan x="1994" dy="0">对员工的管理上继续坚持以人为本，严格细致</tspan><tspan x="1994" dy="14.8">的工作方针。公司坚持量力而行不断改善员工</tspan><tspan x="1994" dy="14.8">的生产生活条件和待遇水平。对违反公司规定</tspan><tspan x="1994" dy="14.8">和发生事故的员工本着教育为主，处罚为辅的</tspan><tspan x="1994" dy="14.8">原则，针对每件事，每个人都做了耐心细致的</tspan><tspan x="1994" dy="14.8">工作。员工思想稳定，工作安心，极大地促进</tspan><tspan x="1994" dy="14.8">了各项工作的开展。</tspan></text></g>

<g id="watermarks">
<text class="wm" x="345" y="700" transform="rotate(-27 345 700)">树图<tspan class="wms">shutu.cn</tspan></text>
<text class="wm" x="345" y="1690" transform="rotate(-27 345 1690)">树图<tspan class="wms">shutu.cn</tspan></text>
<text class="wm" x="345" y="2710" transform="rotate(-27 345 2710)">树图<tspan class="wms">shutu.cn</tspan></text>
<text class="wm" x="1643" y="700" transform="rotate(-27 1643 700)">树图<tspan class="wms">shutu.cn</tspan></text>
<text class="wm" x="1643" y="1690" transform="rotate(-27 1643 1690)">树图<tspan class="wms">shutu.cn</tspan></text>
<text class="wm" x="1643" y="2710" transform="rotate(-27 1643 2710)">树图<tspan class="wms">shutu.cn</tspan></text>
</g>
</svg>
